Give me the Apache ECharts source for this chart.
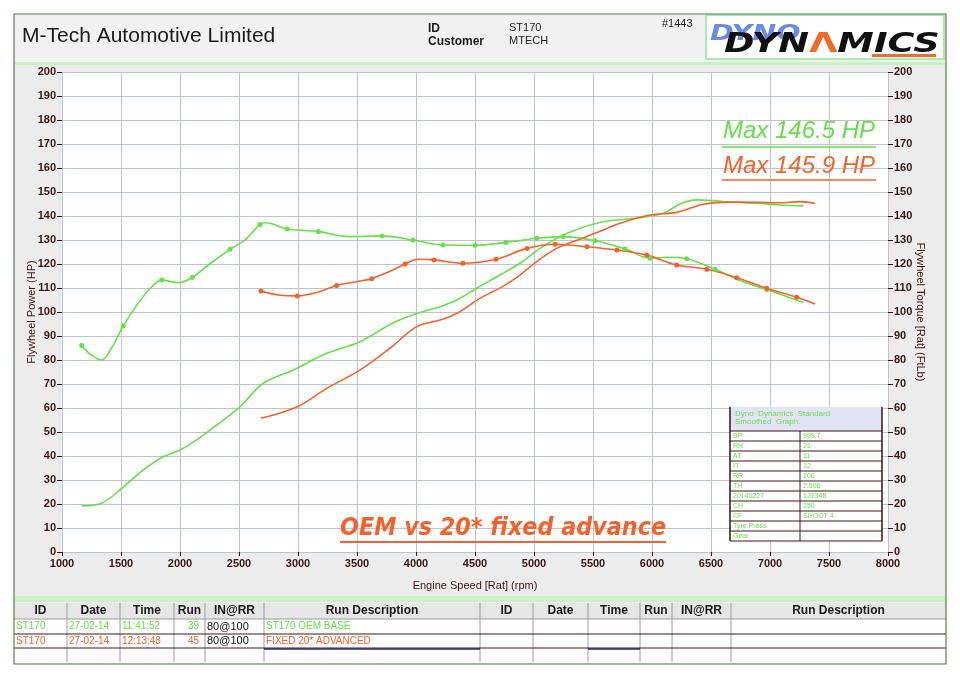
<!DOCTYPE html>
<html>
<head>
<meta charset="utf-8">
<script src="https://cdn.jsdelivr.net/npm/echarts@6/dist/echarts.min.js"></script>
<style>
  html, body { margin: 0; padding: 0; background: #fff; }
  #main { width: 960px; height: 679px; }
</style>
</head>
<body>
<div id="main"></div>
<script>
// engine speed ticks and axis ranges
var rpmTicks = [1000, 8000, 500];
var valueTicks = [0, 200, 10];

// ST170 OEM BASE (green): [rpm, value]
var oemPower = [
    [1167, 19.2], [1336, 20.3], [1506, 26.5], [1689, 34.2], [1858, 39.7], [2000, 42.5],
    [2142, 46.7], [2311, 52.9], [2508, 60.5], [2706, 70.3], [2960, 75.8], [3243, 82.8],
    [3525, 87.6], [3808, 95.5], [4006, 99.4], [4203, 102.2], [4345, 105], [4514, 109.9],
    [4712, 115.4], [4881, 120.3], [5051, 126.5], [5220, 131.4], [5390, 134.9], [5559, 137.3],
    [5729, 138.5], [5900, 139.3], [6096, 141.1], [6237, 145], [6379, 146.7], [6519, 146.4],
    [6689, 145.7], [6887, 145.3], [7085, 144.6], [7282, 144.2]
];
var oemTorque = [
    [1167, 86], [1250, 82], [1336, 80], [1420, 85], [1519, 94.2], [1650, 104], [1750, 110],
    [1845, 113.3], [1986, 112.2], [2104, 114.4], [2250, 120], [2424, 126.1], [2550, 130],
    [2678, 136.5], [2729, 137.2], [2909, 134.6], [3172, 133.5], [3441, 131.4], [3712, 131.7],
    [3975, 130], [4229, 127.9], [4500, 127.8], [4763, 129], [5025, 130.7], [5246, 131.4],
    [5517, 129.7], [5771, 126.3], [5983, 122.4], [6125, 122.8], [6294, 122.2], [6534, 117.8],
    [6774, 112.6], [6972, 109.4], [7282, 104]
];
var oemMarkers = [1167, 1519, 1845, 2104, 2424, 2678, 2909, 3172, 3712, 3975, 4229, 4500,
    4763, 5025, 5246, 5517, 5771, 5983, 6294, 6534, 6972];

// FIXED 20* ADVANCED (orange)
var advPower = [
    [2686, 55.7], [2994, 60.5], [3243, 68.2], [3525, 75.8], [3780, 84.9], [4006, 93.9],
    [4203, 96.7], [4345, 99.4], [4542, 105.7], [4740, 110.8], [4881, 115.4], [5023, 121],
    [5192, 126.5], [5390, 130.3], [5587, 134.2], [5729, 137], [5983, 140.4], [6209, 141.5],
    [6435, 144.9], [6661, 145.8], [6887, 145.7], [7085, 145.5], [7254, 146], [7381, 145.3]
];
var advTorque = [
    [2686, 108.7], [2850, 107], [2994, 106.7], [3150, 108], [3327, 111], [3525, 112.9],
    [3625, 113.9], [3780, 117], [3907, 120], [4017, 122], [4153, 121.7], [4398, 120.3],
    [4678, 122], [4941, 126.5], [5178, 128.2], [5449, 127.2], [5703, 125.8], [5955, 123.7],
    [6209, 119.6], [6464, 117.8], [6718, 114.3], [6972, 109.9], [7226, 106.1], [7381, 103.3]
];
var advMarkers = [2686, 2994, 3327, 3625, 3907, 4153, 4398, 4678, 4941, 5178, 5449, 5703,
    5955, 6209, 6464, 6718, 6972, 7226];

// run table
var tableHeader = ['ID', 'Date', 'Time', 'Run', 'IN@RR', 'Run Description'];
var runRows = [
    ['ST170', '27-02-14', '11:41:52', '39', '80@100', 'ST170 OEM BASE'],
    ['ST170', '27-02-14', '12:13:48', '45', '80@100', 'FIXED 20* ADVANCED']
];
var maxLabels = ['Max 146.5 HP', 'Max 145.9 HP'];

// weather / correction box
var infoRows = [
    ['BP', '999.7'], ['RH', '21'], ['AT', '11'], ['IT', '12'], ['RR', '100'], ['TH', '2.508'],
    ['20140227', '121348'], ['CH', '250'], ['CF', 'SHOOT 4'], ['Tyre Press', ''], ['Gear', '']
];

var GREEN = '#66e048';
var ORANGE = '#f2622c';
var INK = '#3a1414';
var NARROW = '"Liberation Sans Narrow", "Liberation Sans", Arial, sans-serif';
var SANS = '"Liberation Sans", Arial, sans-serif';

function withMarkers(points, marks) {
    return points.map(function (p) {
        var on = marks.indexOf(p[0]) >= 0;
        return { value: p, symbol: on ? 'circle' : 'none', symbolSize: on ? 5 : 0 };
    });
}

function lineSeries(name, data, color, yIdx) {
    return {
        name: name, type: 'line', yAxisIndex: yIdx, data: data,
        smooth: 0.35, showSymbol: true, showAllSymbol: true,
        lineStyle: { color: color, width: 1.6 },
        itemStyle: { color: color },
        animation: false, z: 3
    };
}

/* graphic pieces: frame, header, logo, notes, tables */
var g = [];
function rect(x, y, w, h, fill, stroke, z, lw) {
    g.push({ type: 'rect', shape: { x: x, y: y, width: w, height: h }, z: z || 0,
        style: { fill: fill || 'none', stroke: stroke || null, lineWidth: lw || 1 } });
}
function line(x1, y1, x2, y2, color, lw, z) {
    g.push({ type: 'line', shape: { x1: x1, y1: y1, x2: x2, y2: y2 }, z: z || 1,
        style: { stroke: color, lineWidth: lw || 1 } });
}
function text(x, y, s, font, color, align, z, extra) {
    var el = { type: 'text', x: x, y: y, z: z || 5,
        style: { text: s, font: font, fill: color, align: align || 'left', verticalAlign: 'middle' } };
    if (extra) { for (var k in extra) el[k] = extra[k]; }
    g.push(el);
}

// frame and panel
rect(14, 14, 932, 650, '#ececec', null, -20);
rect(14, 14, 932, 48, '#f1f1f1', null, -19);
rect(14, 62, 932, 3, '#c9f2c3', null, -18);
rect(14, 596, 932, 6, '#c9f2c3', null, -18);
rect(14, 603, 932, 60, '#ffffff', null, -18);
rect(14, 14, 932, 650, null, '#5f7a58', 10, 1.2);

// header
text(22, 36, 'M-Tech Automotive Limited', '21px ' + SANS, '#1a1a1a');
text(428, 29, 'ID', 'bold 12px ' + SANS, '#1a1a1a');
text(428, 42, 'Customer', 'bold 12px ' + SANS, '#1a1a1a');
text(509, 28, 'ST170', '11px ' + NARROW, '#222');
text(509, 41, 'MTECH', '11px ' + NARROW, '#222');
text(662, 24, '#1443', '11px ' + NARROW, '#222');

// logo
rect(706, 15, 238, 44, '#ffffff', '#a8ecae', 2, 2);
text(710, 34, 'DYNO', 'italic bold 22px "DejaVu Sans", sans-serif', '#6a8ae8', 'left', 3, { scaleX: 1.3 });
g.push({ type: 'text', x: 724, y: 45, z: 4, scaleX: 1.36, style: {
    text: '{k|DYN}{o|Λ}{k|MICS}', verticalAlign: 'middle',
    rich: {
        k: { font: 'italic bold 27px "DejaVu Sans", sans-serif', fill: '#111' },
        o: { font: 'bold 27px "DejaVu Sans", sans-serif', fill: '#f06a28' }
    } } });
rect(872, 54, 64, 3, '#f06a28', null, 4);

// max labels
text(723, 131, maxLabels[0], 'italic 24px ' + SANS, GREEN, 'left', 6);
line(722, 147, 876, 147, GREEN, 1.5, 6);
text(723, 166, maxLabels[1], 'italic 24px ' + SANS, ORANGE, 'left', 6);
line(722, 180, 876, 180, ORANGE, 1.5, 6);

// title note
text(340, 529, 'OEM vs 20* fixed advance', 'italic bold 24px "DejaVu Sans", sans-serif', ORANGE, 'left', 6, { scaleX: 0.93 });
line(340, 542, 666, 542, ORANGE, 2, 6);

// info box
var bx = 730, by = 407, bw = 152, col = 800, rh = 10;
rect(bx, by, bw, 24, '#e3e3f6', null, 20);
rect(bx, by + 24, bw, infoRows.length * rh, '#ffffff', null, 20);
text(bx + 5, by + 7, 'Dyno  Dynamics  Standard', '8px ' + SANS, GREEN, 'left', 22);
text(bx + 5, by + 15, 'Smoothed  Graph.', '8px ' + SANS, GREEN, 'left', 22);
infoRows.forEach(function (r, i) {
    var y = by + 24 + i * rh;
    line(bx, y, bx + bw, y, INK, 1, 21);
    text(bx + 3, y + rh / 2, r[0], '7px ' + SANS, GREEN, 'left', 22);
    text(col + 3, y + rh / 2, r[1], '7px ' + SANS, GREEN, 'left', 22);
});
line(bx, by + 24 + infoRows.length * rh, bx + bw, by + 24 + infoRows.length * rh, INK, 1, 21);
line(bx, by, bx, by + 24 + infoRows.length * rh, INK, 1.5, 21);
line(bx + bw, by, bx + bw, by + 24 + infoRows.length * rh, INK, 1.5, 21);
line(col, by + 24, col, by + 24 + infoRows.length * rh, INK, 1, 21);

// run table
var cols = [14, 67, 120, 174, 205, 264, 480, 533, 588, 640, 672, 731, 946];
var rowY = [603, 619, 634, 648, 662];
rect(14, 603, 932, 16, '#e6e6e6', null, 1);
for (var side = 0; side < 2; side++) {
    tableHeader.forEach(function (h, i) {
        var c = side * 6 + i;
        text((cols[c] + cols[c + 1]) / 2, 611, h, 'bold 12px ' + SANS, '#1a1a1a', 'center');
    });
}
runRows.forEach(function (r, ri) {
    var y = (rowY[ri + 1] + rowY[ri + 2]) / 2;
    var color = ri === 0 ? GREEN : ORANGE;
    r.forEach(function (v, i) {
        var isRun = i === 3;
        var isIn = i === 4;
        var x = isRun ? cols[i + 1] - 6 : cols[i] + 2;
        text(x, y, v, (isIn ? '11px ' : '10px ') + NARROW, isIn ? '#111' : color, isRun ? 'right' : 'left');
    });
});
cols.forEach(function (x, i) {
    if (i > 0 && i < cols.length - 1) line(x, 603, x, 662, '#9a9a9a', 1);
});
line(14, 619, 946, 619, '#9a9a9a', 1);
line(14, 634, 946, 634, '#3a1a20', 1);
line(14, 648, 946, 648, '#3a1a20', 1);
line(264, 649, 480, 649, '#23235a', 1.5);
line(588, 649, 640, 649, '#23235a', 1.5);

function valueAxis(pos, name) {
    return {
        type: 'value', position: pos, min: valueTicks[0], max: valueTicks[1], interval: valueTicks[2],
        name: name, nameLocation: 'middle', nameGap: pos === 'left' ? 25 : 27, nameMoveOverlap: false,
        nameRotate: pos === 'left' ? 90 : -90,
        nameTextStyle: { fontFamily: NARROW, fontSize: 11, color: INK },
        axisLine: { show: false },
        axisTick: { show: true, length: 5, lineStyle: { color: INK } },
        axisLabel: { fontFamily: NARROW, fontWeight: 'bold', fontSize: 11, color: INK, margin: 6 },
        splitLine: { show: pos === 'left', lineStyle: { color: '#bcc3cd', width: 1 } }
    };
}

var option = {
    backgroundColor: '#ffffff',
    animation: false,
    grid: { left: 62, right: 72, top: 72, bottom: 127, show: true, backgroundColor: '#ffffff', borderWidth: 0 },
    xAxis: {
        type: 'value', min: rpmTicks[0], max: rpmTicks[1], interval: rpmTicks[2],
        name: 'Engine Speed [Rat] (rpm)', nameLocation: 'middle', nameGap: 28,
        nameTextStyle: { fontFamily: NARROW, fontSize: 11, color: INK },
        axisLine: { show: false },
        axisTick: { show: true, length: 4, lineStyle: { color: INK } },
        axisLabel: { fontFamily: NARROW, fontWeight: 'bold', fontSize: 11, color: INK, margin: 6,
            formatter: function (v) { return String(v); } },
        splitLine: { show: true, lineStyle: { color: '#bcc3cd', width: 1 } }
    },
    yAxis: [valueAxis('left', 'Flywheel Power (HP)'), valueAxis('right', 'Flywheel Torque [Rat] (FtLb)')],
    series: [
        lineSeries('OEM power', oemPower.map(function (p) { return { value: p, symbol: 'none' }; }), GREEN, 0),
        lineSeries('OEM torque', withMarkers(oemTorque, oemMarkers), GREEN, 1),
        lineSeries('Advanced power', advPower.map(function (p) { return { value: p, symbol: 'none' }; }), ORANGE, 0),
        lineSeries('Advanced torque', withMarkers(advTorque, advMarkers), ORANGE, 1)
    ],
    graphic: g
};

var chart = echarts.init(document.getElementById('main'));
chart.setOption(option);
</script>
</body>
</html>
